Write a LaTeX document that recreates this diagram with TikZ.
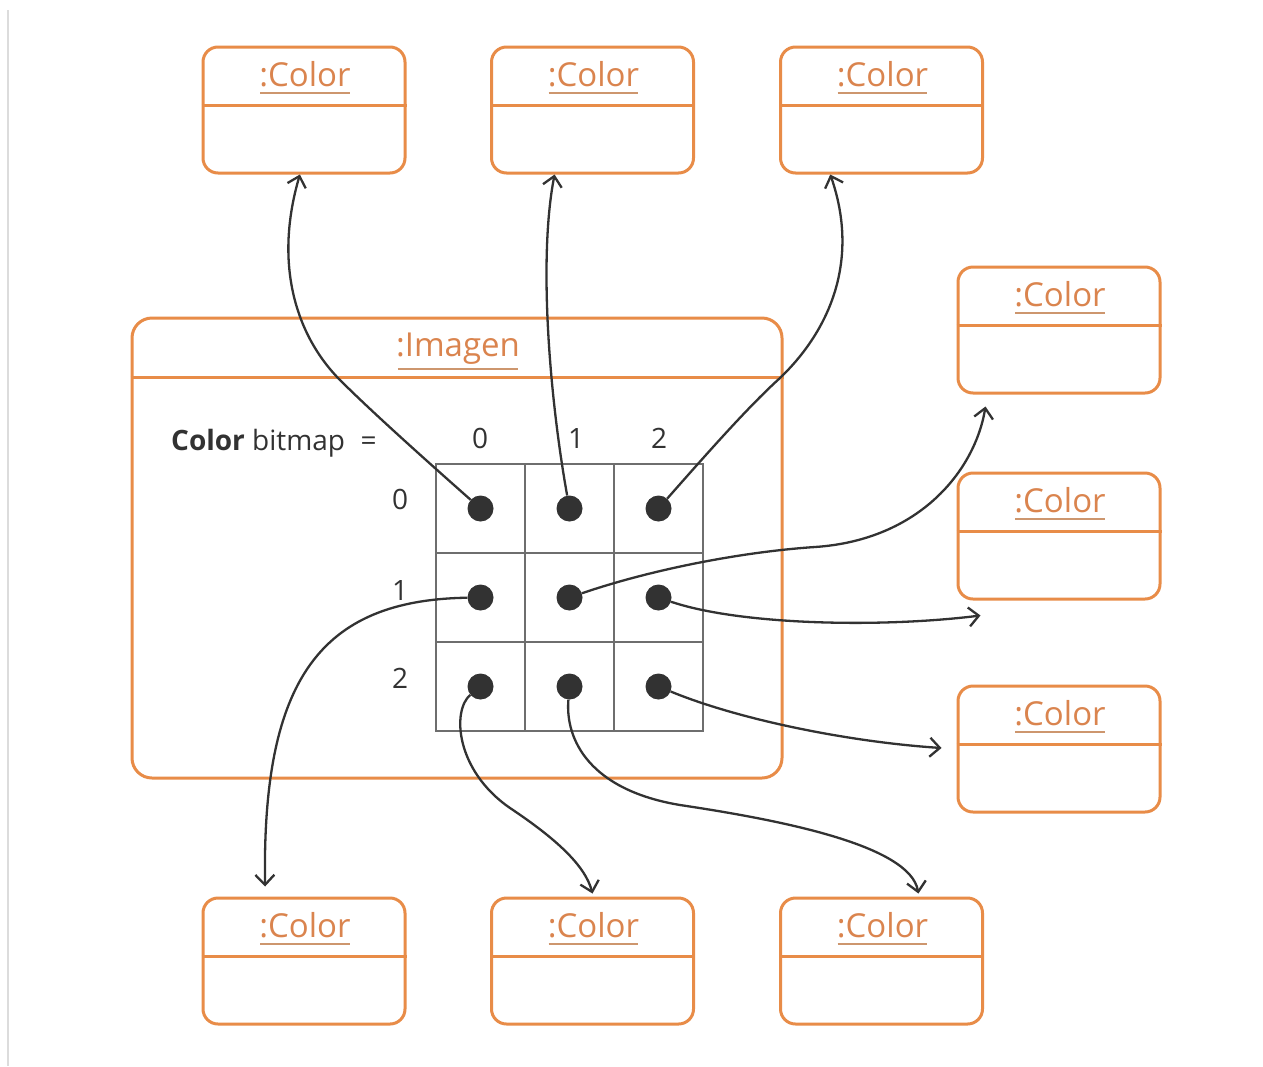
\documentclass[tikz,border=0pt]{standalone}
\usepackage{fontspec}
\setmainfont{Open Sans}
\usetikzlibrary{arrows.meta,calc}
\definecolor{orng}{RGB}{232,140,72}
\definecolor{orngtxt}{RGB}{218,132,78}
\definecolor{ulcol}{RGB}{205,150,110}
\definecolor{dk}{RGB}{50,50,50}
\definecolor{gridc}{RGB}{110,110,110}
\definecolor{edgec}{RGB}{220,220,220}
\begin{document}
\begin{tikzpicture}[x=1pt,y=-1pt,
 objbox/.style={draw=orng, line width=3pt, rounded corners=15pt, minimum width=202pt, minimum height=126pt, inner sep=0pt},
 divider/.style={draw=orng, line width=3pt},
 ttl/.style={text=orngtxt, font=\fontsize{33}{40}\selectfont, inner sep=0pt, anchor=base},
 uline/.style={draw=ulcol, line width=2pt},
 cell/.style={draw=gridc, line width=1.6pt, minimum size=89pt, inner sep=0pt},
 dot/.style={circle, fill=dk, minimum size=26pt, inner sep=0pt},
 lbl/.style={text=dk, font=\fontsize{28}{33}\selectfont, inner sep=0pt},
 conn/.style={draw=dk, line width=2.3pt, -{Straight Barb[length=10pt,width=19pt]}},
]
\useasboundingbox (0,0) rectangle (1263,1066);
\fill[white] (0,0) rectangle (1263,1066);
\draw[edgec, line width=2pt] (8,10) -- (8,1066);

% Imagen object
\node[draw=orng, line width=3pt, rounded corners=20pt, minimum width=650pt, minimum height=460pt, inner sep=0pt] (img) at (457,548) {};
\draw[divider] ($(img.north west)+(0,61)$) -- ($(img.north east)+(0,61)$);
\node[ttl] (imgt) at ($(img.north)+(1,40)$) {:Imagen};
\draw[uline] ($(imgt.base west)+(2,12)$) -- ($(imgt.base east)+(-2,12)$);

% Color objects
\foreach \n/\x/\y in {t1/304/110, t2/592.5/110, t3/881.5/110, r4/1059/330, r5/1059/536, r6/1059/749, b7/304/961, b8/592.5/961, b9/881.5/961}{
  \node[objbox] (\n) at (\x,\y) {};
  \draw[divider] ($(\n.north west)+(0,60)$) -- ($(\n.north east)+(0,60)$);
  \node[ttl] (\n t) at ($(\n.north)+(1,41)$) {:Color};
  \draw[uline] ($(\n t.base west)+(1,6.5)$) -- ($(\n t.base east)+(-1,6.5)$);
}

% bitmap text and indices
\node[lbl, anchor=base west] (bm) at (171,450) {\textbf{Color} bitmap\hspace{0.55em}=};
\node[lbl] (k0) at (480,438) {0};
\node[lbl] (k1) at (576,438) {1};
\node[lbl] (k2) at (659,438) {2};
\node[lbl] (j0) at (400,499) {0};
\node[lbl] (j1) at (400,590) {1};
\node[lbl] (j2) at (400,678) {2};

% grid cells and dots
\foreach \r in {0,1,2}{
  \foreach \c in {0,1,2}{
    \node[cell] (c\r\c) at ({480.5+89*\c},{508.5+89*\r}) {};
  }
}
\foreach \r in {0,1,2}{
  \foreach \c in {0,1,2}{
    \node[dot] (d\r\c) at (c\r\c.center) {};
  }
}

% end points
\coordinate (e1) at ($(t1.south west)!.48!(t1.south east)$);
\coordinate (e2) at ($(t2.south west)!.315!(t2.south east)$);
\coordinate (e3) at ($(t3.south west)!.25!(t3.south east)$);
\coordinate (e4) at ($(r4.south west)+(29,12)$);
\coordinate (e5) at ($(r5.south west)+(24,15)$);
\coordinate (e6) at ($(r6.west)+(-15,-1)$);
\coordinate (e7) at ($(b7.north west)!.31!(b7.north east)+(0,-10)$);
\coordinate (e8) at ($(b8.north)+(0,-3)$);
\coordinate (e9) at ($(b9.north west)!.68!(b9.north east)+(0,-3)$);

% connectors
\draw[conn] (d00) .. controls (420,455) and (370,410) .. (340,380) .. controls (300,340) and (272,270) .. (e1);
\draw[conn] (d01) .. controls (550,400) and (538,260) .. (e2);
\draw[conn] (d02) .. controls (710,450) and (750,405) .. (780,378) .. controls (830,330) and (860,260) .. (e3);
\draw[conn] (d11) .. controls (650,570) and (740,552) .. (815,547) .. controls (920,540) and (975,470) .. (e4);
\draw[conn] (d12) .. controls (740,625) and (880,628) .. (e5);
\draw[conn] (d22) .. controls (740,720) and (850,742) .. (e6);
\draw[conn] (d10) .. controls (320,600) and (262,680) .. (e7);
\draw[conn] (d20) .. controls (452,710) and (455,770) .. (510,808) .. controls (555,838) and (585,865) .. (e8);
\draw[conn] (d21) .. controls (565,740) and (590,790) .. (680,805) .. controls (780,820) and (910,845) .. (e9);
\end{tikzpicture}
\end{document}
